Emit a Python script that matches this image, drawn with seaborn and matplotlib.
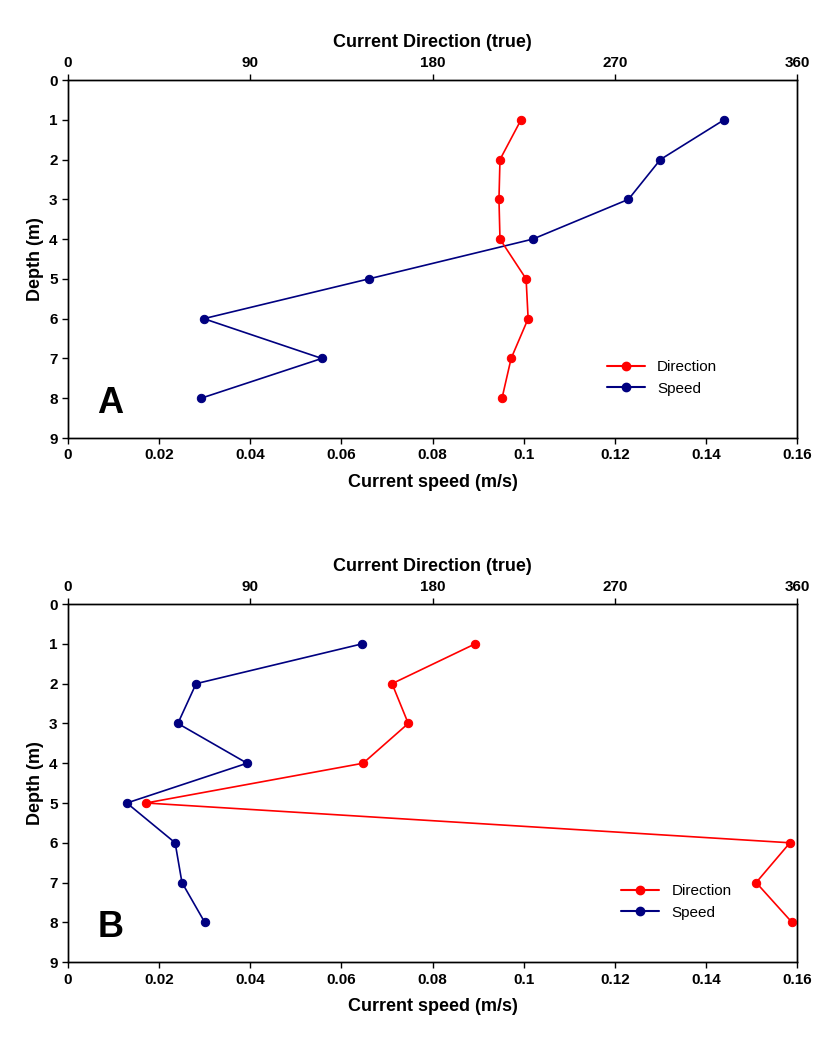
import numpy as np
import seaborn as sns
import matplotlib.pyplot as plt
from matplotlib.lines import Line2D

depth = [1, 2, 3, 4, 5, 6, 7, 8]

dir_a = [223.7, 213.3, 212.8, 213.3, 226.2, 227.2, 218.8, 214.3]
speed_a = [0.144, 0.130, 0.123, 0.102, 0.066, 0.0298, 0.0557, 0.0292]

dir_b = [201, 160, 168, 145.7, 38.5, 356.5, 339.8, 357.5]
speed_b = [0.0645, 0.0281, 0.0241, 0.0393, 0.0129, 0.0235, 0.025, 0.030]

sns.set_style("ticks")
plt.rcParams['font.family'] = ['Liberation Sans', 'DejaVu Sans']
plt.rcParams['text.color'] = 'black'
plt.rcParams['axes.labelcolor'] = 'black'

fig, axes = plt.subplots(2, 1, figsize=(8.2, 10.39), dpi=100)
fig.subplots_adjust(left=0.083, right=0.972, top=0.923, bottom=0.074, hspace=0.464)


def panel(ax, direction, speed, letter, leg_pos):
    top = ax.twiny()
    sns.lineplot(x=speed, y=depth, sort=False, ax=ax, color='#000080', marker='o',
                 markersize=6, markeredgecolor='#000080', linewidth=1.2, estimator=None)
    sns.lineplot(x=direction, y=depth, sort=False, ax=top, color='#ff0000', marker='o',
                 markersize=6, markeredgecolor='#ff0000', linewidth=1.2, estimator=None)
    ax.set_xlim(0, 0.16)
    ax.set_xticks(np.arange(0, 0.161, 0.02))
    ax.set_xticklabels(['0', '0.02', '0.04', '0.06', '0.08', '0.1', '0.12', '0.14', '0.16'])
    top.set_xlim(0, 360)
    top.set_xticks([0, 90, 180, 270, 360])
    ax.set_ylim(9, 0)
    ax.set_yticks(range(10))
    for a in (ax, top):
        a.tick_params(labelsize=11, width=1, length=4, labelcolor='black', color='black')
        for s in a.spines.values():
            s.set_linewidth(1)
            s.set_color('black')
            s.set_visible(True)
    for lab in ax.get_xticklabels() + ax.get_yticklabels() + top.get_xticklabels():
        lab.set_fontweight('bold')
    ax.set_xlabel('Current speed (m/s)', fontsize=13, fontweight='bold', labelpad=8)
    ax.set_ylabel('Depth (m)', fontsize=13, fontweight='bold')
    top.set_xlabel('Current Direction (true)', fontsize=13, fontweight='bold', labelpad=6)
    ax.text(0.04, 0.07, letter, transform=ax.transAxes, fontsize=26, fontweight='bold')
    handles = [Line2D([], [], color='#ff0000', marker='o', markersize=6),
               Line2D([], [], color='#000080', marker='o', markersize=6)]
    top.legend(handles, ['Direction', 'Speed'], loc='lower left', bbox_to_anchor=leg_pos,
               frameon=False, fontsize=11, handlelength=2.5)


panel(axes[0], dir_a, speed_a, 'A', (0.72, 0.08))
panel(axes[1], dir_b, speed_b, 'B', (0.74, 0.08))

fig.savefig('out.png', dpi=100)
